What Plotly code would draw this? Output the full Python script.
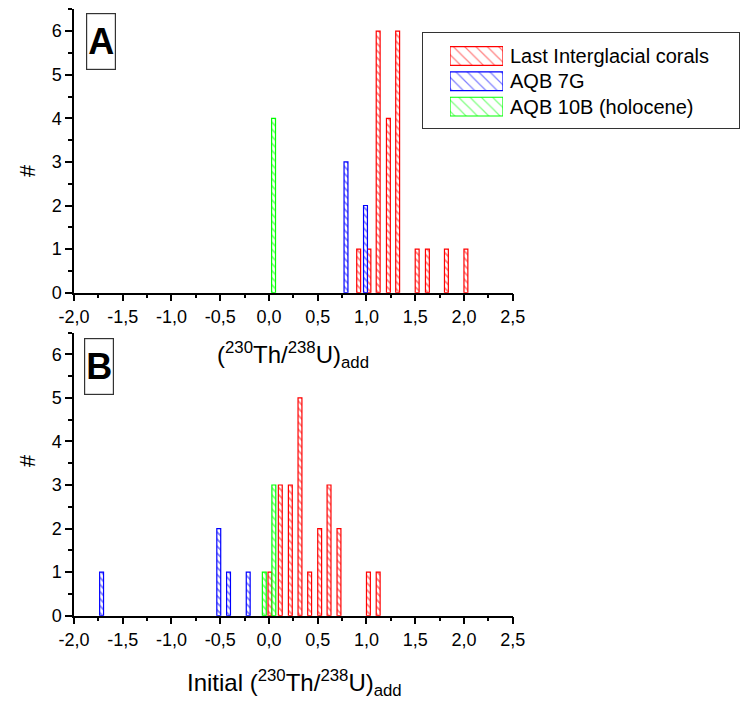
import plotly.graph_objects as go

W, H = 741, 701

# ---------------- data ----------------
series_names = ["Last Interglacial corals", "AQB 7G", "AQB 10B (holocene)"]
series_colors = ["#FF0000", "#0000FF", "#00FF00"]

# Panel A : (230Th/238U)add
a_lig_x = [0.92, 1.025, 1.12, 1.225, 1.32, 1.52, 1.625, 1.82, 2.02]
a_lig_y = [1, 1, 6, 4, 6, 1, 1, 1, 1]
a_7g_x = [0.79, 0.99]
a_7g_y = [3, 2]
a_10b_x = [0.047]
a_10b_y = [4]

# Panel B : Initial (230Th/238U)add
b_lig_x = [0.01, 0.116, 0.219, 0.318, 0.417, 0.52, 0.616, 0.718, 1.02, 1.12]
b_lig_y = [1, 3, 3, 5, 1, 2, 3, 2, 1, 1]
b_7g_x = [-1.717, -0.515, -0.415, -0.213]
b_7g_y = [1, 2, 1, 1]
b_10b_x = [-0.048, 0.05]
b_10b_y = [1, 3]

x_tickvals = [-2.0, -1.5, -1.0, -0.5, 0.0, 0.5, 1.0, 1.5, 2.0, 2.5]
x_ticktext = ["-2,0", "-1,5", "-1,0", "-0,5", "0,0", "0,5", "1,0", "1,5", "2,0", "2,5"]
y_tickvals = [0, 1, 2, 3, 4, 5, 6]
y_ticktext = ["0", "1", "2", "3", "4", "5", "6"]

BAR_W = 0.04
FONT = "Liberation Sans"


def px(x):
    return x / W


def py(y):
    return 1 - y / H


def bar(x, y, color, xa, ya):
    return go.Bar(
        x=x, y=y, width=BAR_W, xaxis=xa, yaxis=ya, showlegend=False,
        marker=dict(color="white", line=dict(color=color, width=1.2),
                    pattern=dict(shape="\\", fgcolor=color, bgcolor="white",
                                 size=5, solidity=0.35)),
        hoverinfo="x+y",
    )


fig = go.Figure()
panel_a = [(a_lig_x, a_lig_y), (a_7g_x, a_7g_y), (a_10b_x, a_10b_y)]
panel_b = [(b_lig_x, b_lig_y), (b_7g_x, b_7g_y), (b_10b_x, b_10b_y)]
for (x, y), c in zip(panel_a, series_colors):
    fig.add_trace(bar(x, y, c, "x", "y"))
for (x, y), c in zip(panel_b, series_colors):
    fig.add_trace(bar(x, y, c, "x2", "y2"))

# legend frame (empty subplot whose mirrored axis lines draw the box)
fig.add_trace(go.Scatter(x=[None], y=[None], xaxis="x4", yaxis="y4",
                         showlegend=False, hoverinfo="skip", mode="markers"))

# legend swatches (horizontal bars on a hidden axis)
for i, (name, c) in enumerate(zip(series_names, series_colors)):
    fig.add_trace(go.Bar(
        x=[1], y=[i], orientation="h", width=0.74, xaxis="x3", yaxis="y3",
        showlegend=False, hoverinfo="skip", name=name,
        marker=dict(color="white", line=dict(color=c, width=1.2),
                    pattern=dict(shape="\\", fgcolor=c, bgcolor="white",
                                 size=8, solidity=0.15)),
    ))

x_dom = [px(74), px(512.7)]
common_x = dict(
    range=[-2.0, 2.5], tickmode="array", tickvals=x_tickvals, ticktext=x_ticktext,
    showline=True, linecolor="black", linewidth=1.5, ticks="outside", ticklen=7,
    tickwidth=1.5, tickcolor="black", showgrid=False, zeroline=False,
    tickfont=dict(family=FONT, size=18, color="black"),
    minor=dict(tickmode="linear", tick0=-2.0, dtick=0.25, ticks="outside",
               ticklen=4, tickwidth=1.5, tickcolor="black", showgrid=False),
    domain=x_dom,
)
common_y = dict(
    range=[0, 6.5], tickmode="array", tickvals=y_tickvals, ticktext=y_ticktext,
    showline=True, linecolor="black", linewidth=1.5, ticks="outside", ticklen=7,
    tickwidth=1.5, tickcolor="black", showgrid=False, zeroline=False,
    tickfont=dict(family=FONT, size=18, color="black"),
    minor=dict(tickmode="linear", tick0=0, dtick=0.5, ticks="outside",
               ticklen=4, tickwidth=1.5, tickcolor="black", showgrid=False),
)
frame = dict(showline=True, mirror=True, linecolor="#333333", linewidth=1.2,
             showticklabels=False, ticks="", showgrid=False, zeroline=False,
             range=[0, 1], fixedrange=True)

fig.update_layout(
    width=W, height=H, margin=dict(l=0, r=0, t=0, b=0, autoexpand=False),
    paper_bgcolor="white", plot_bgcolor="rgba(0,0,0,0)", barmode="overlay",
    showlegend=False, font=dict(family=FONT, color="black"),
    xaxis=dict(**common_x, anchor="y"),
    yaxis=dict(**common_y, domain=[py(292.7), py(9.3)], anchor="x"),
    xaxis2=dict(**common_x, anchor="y2"),
    yaxis2=dict(**common_y, domain=[py(615.7), py(332.5)], anchor="x2"),
    xaxis3=dict(domain=[px(450), px(503)], range=[0, 1], visible=False, anchor="y3", fixedrange=True),
    yaxis3=dict(domain=[py(119.3), py(43.3)], range=[2.5, -0.5], visible=False, anchor="x3", fixedrange=True),
    xaxis4=dict(**frame, domain=[px(423), px(739)], anchor="y4"),
    yaxis4=dict(**frame, domain=[py(128.3), py(33.3)], anchor="x4"),
)

ann = []
row_y = [56, 81.3, 106.6]
for name, ry in zip(series_names, row_y):
    ann.append(dict(text=name, x=px(508), y=py(ry), xref="paper", yref="paper",
                    xanchor="left", yanchor="middle", showarrow=False,
                    font=dict(family=FONT, size=20, color="black")))
ann.append(dict(text="<b>A</b>", x=px(101), y=py(41.5), xref="paper", yref="paper",
                xanchor="center", yanchor="middle", showarrow=False, width=28, height=55,
                bordercolor="#333333", borderwidth=1.2, borderpad=0,
                font=dict(family=FONT, size=36, color="black")))
ann.append(dict(text="<b>B</b>", x=px(99.3), y=py(366.7), xref="paper", yref="paper",
                xanchor="center", yanchor="middle", showarrow=False, width=28, height=55,
                bordercolor="#333333", borderwidth=1.2, borderpad=0,
                font=dict(family=FONT, size=36, color="black")))
for yy in (170, 460):
    ann.append(dict(text="#", x=px(27), y=py(yy), xref="paper", yref="paper",
                    xanchor="center", yanchor="middle", showarrow=False, textangle=-90,
                    font=dict(family=FONT, size=22, color="black")))
ann.append(dict(text="(<sup>230</sup>Th/<sup>238</sup>U)<sub>add</sub>", x=px(293), y=py(355),
                xref="paper", yref="paper", xanchor="center", yanchor="middle", showarrow=False,
                font=dict(family=FONT, size=24, color="black")))
ann.append(dict(text="Initial (<sup>230</sup>Th/<sup>238</sup>U)<sub>add</sub>", x=px(294), y=py(683),
                xref="paper", yref="paper", xanchor="center", yanchor="middle", showarrow=False,
                font=dict(family=FONT, size=24, color="black")))
fig.update_layout(annotations=ann)

fig.write_html("out.html")
